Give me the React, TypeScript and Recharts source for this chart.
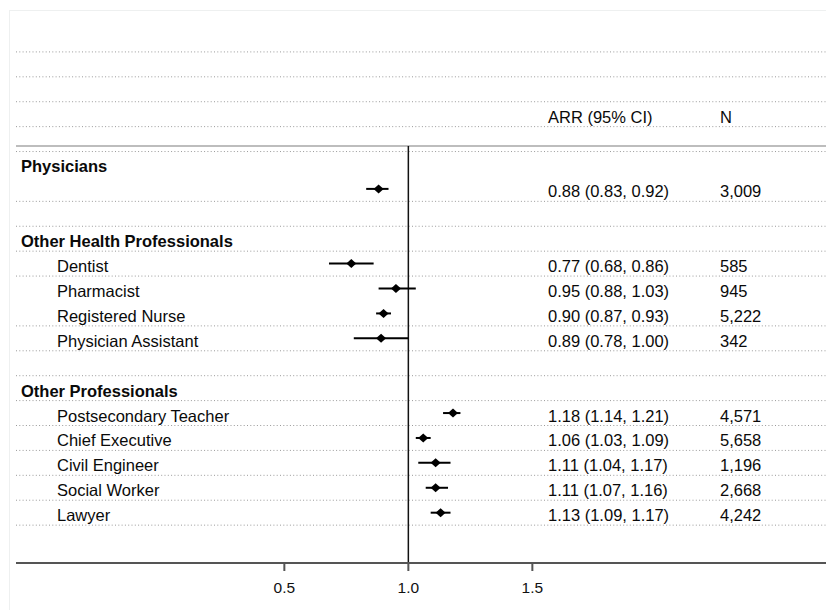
import {
  ErrorBar,
  ReferenceLine,
  Scatter,
  ScatterChart,
  XAxis,
  YAxis,
} from "recharts";

// row index = slot counted from the first dotted line at the top
const groupNames = ["Physicians", "Other Health Professionals", "Other Professionals"];
const groupRows = [4, 7, 13];

const occupations = [
  "",
  "Dentist",
  "Pharmacist",
  "Registered Nurse",
  "Physician Assistant",
  "Postsecondary Teacher",
  "Chief Executive",
  "Civil Engineer",
  "Social Worker",
  "Lawyer",
];
const occRows = [5, 8, 9, 10, 11, 14, 15, 16, 17, 18];
const arr = [0.88, 0.77, 0.95, 0.9, 0.89, 1.18, 1.06, 1.11, 1.11, 1.13];
const ciLow = [0.83, 0.68, 0.88, 0.87, 0.78, 1.14, 1.03, 1.04, 1.07, 1.09];
const ciHigh = [0.92, 0.86, 1.03, 0.93, 1.0, 1.21, 1.09, 1.17, 1.16, 1.17];
const counts = ["3,009", "585", "945", "5,222", "342", "4,571", "5,658", "1,196", "2,668", "4,242"];

const headerRow = 2;
const dottedRows = [0, 1, 2, 3, 4, 6, 7, 8, 9, 11, 12, 13, 14, 15, 16, 17, 18, 19];
const xTicks = [0.5, 1.0, 1.5];

const FONT = "'Liberation Sans', Arial, Helvetica, sans-serif";

const points = occRows.map((r, i) => ({
  x: arr[i],
  y: r + 0.5,
  err: [+(arr[i] - ciLow[i]).toFixed(3), +(ciHigh[i] - arr[i]).toFixed(3)],
}));

type RowText = { label: string; bold: boolean; est?: string; n?: string; head?: boolean };
const rowText: Record<string, RowText> = {};
rowText[(headerRow + 0.5).toFixed(1)] = { label: "", bold: false, head: true };
groupRows.forEach((r, i) => {
  rowText[(r + 0.5).toFixed(1)] = { label: groupNames[i], bold: true };
});
occRows.forEach((r, i) => {
  rowText[(r + 0.5).toFixed(1)] = {
    label: occupations[i],
    bold: false,
    est: `${arr[i].toFixed(2)} (${ciLow[i].toFixed(2)}, ${ciHigh[i].toFixed(2)})`,
    n: counts[i],
  };
});
const textTicks = Object.keys(rowText).map(Number);

function RowTick(props: any) {
  const { y, payload } = props;
  const row = rowText[Number(payload.value).toFixed(1)];
  if (!row) return <g />;
  const base = y + 8.5;
  const common = { fontFamily: FONT, fontSize: 16.5, fill: "#0a0a0a" };
  if (row.head) {
    return (
      <g>
        <text x={548} y={base} {...common}>ARR (95% CI)</text>
        <text x={720} y={base} {...common}>N</text>
      </g>
    );
  }
  return (
    <g>
      {row.label ? (
        <text x={row.bold ? 21 : 57} y={base} {...common} fontWeight={row.bold ? 700 : 400}>
          {row.label}
        </text>
      ) : null}
      {row.est ? <text x={548} y={base} {...common}>{row.est}</text> : null}
      {row.n ? <text x={720} y={base} {...common}>{row.n}</text> : null}
    </g>
  );
}

function XTick(props: any) {
  const { x, y, payload } = props;
  return (
    <text x={x} y={y + 20} textAnchor="middle" fontFamily={FONT} fontSize={15.5} fill="#111">
      {Number(payload.value).toFixed(1)}
    </text>
  );
}

function Diamond(props: any) {
  const { cx, cy } = props;
  return (
    <path
      d={`M${cx},${cy - 4.5} L${cx + 5},${cy} L${cx},${cy + 4.5} L${cx - 5},${cy} Z`}
      fill="#000"
    />
  );
}

export default function App() {
  return (
    <div style={{ position: "absolute", left: 0, top: 0, width: 826, height: 610, overflow: "hidden", background: "#fff" }}>
      <div
        style={{
          position: "absolute",
          left: 9,
          top: 10,
          width: 830,
          height: 610,
          borderTop: "1px solid #eef0f0",
          borderLeft: "1px solid #eef0f0",
        }}
      />
      <ScatterChart width={826} height={610} margin={{ top: 27, right: 0, left: 15, bottom: 7 }}>
        <XAxis
          type="number"
          dataKey="x"
          domain={[-0.582, 2.684]}
          allowDataOverflow
          ticks={xTicks}
          height={40}
          axisLine={{ stroke: "#555", strokeWidth: 2 }}
          tickLine={{ stroke: "#555", strokeWidth: 2 }}
          tickSize={8}
          tick={(p: any) => <XTick {...p} />}
        />
        <YAxis
          type="number"
          dataKey="y"
          domain={[-1, 20.52]}
          allowDataOverflow
          reversed
          width={1}
          ticks={textTicks}
          interval={0}
          axisLine={false}
          tickLine={false}
          tick={(p: any) => <RowTick {...p} />}
        />
        {dottedRows.map((r) => (
          <ReferenceLine key={r} y={r} stroke="#9a9a9a" strokeDasharray="1 2.3" strokeWidth={1} />
        ))}
        <ReferenceLine y={3.775} stroke="#bdbdbd" strokeWidth={2} />
        <ReferenceLine
          segment={[
            { x: 1, y: 3.775 },
            { x: 1, y: 20.52 },
          ]}
          stroke="#111"
          strokeWidth={1.5}
        />
        <Scatter data={points} shape={<Diamond />} isAnimationActive={false}>
          <ErrorBar dataKey="err" direction="x" width={0} stroke="#000" strokeWidth={2} />
        </Scatter>
      </ScatterChart>
    </div>
  );
}
